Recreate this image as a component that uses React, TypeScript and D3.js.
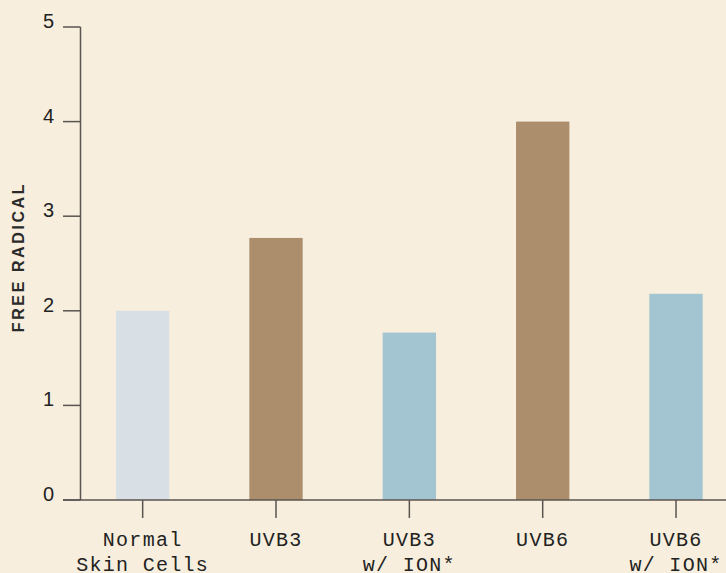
import React, { useEffect, useRef } from "react";
import * as d3 from "d3";

const categories: string[][] = [
  ["Normal", "Skin Cells"],
  ["UVB3"],
  ["UVB3", "w/ ION*"],
  ["UVB6"],
  ["UVB6", "w/ ION*"],
];
const keys = ["normal", "uvb3", "uvb3ion", "uvb6", "uvb6ion"];
const values = [2.0, 2.77, 1.77, 4.0, 2.18];
const colors = ["#D8E0E5", "#AD8E6C", "#A3C5D1", "#AD8E6C", "#A3C5D1"];
const yTicks = [0, 1, 2, 3, 4, 5];
const yTitle = "FREE RADICAL";

const W = 726;
const H = 573;

export default function App() {
  const ref = useRef<SVGSVGElement>(null);

  useEffect(() => {
    const svg = d3.select(ref.current);
    svg.selectAll("*").remove();

    const x = d3
      .scaleBand<string>()
      .domain(keys)
      .range([76, 742.7])
      .paddingInner(0.6)
      .paddingOuter(0.3);
    const y = d3.scaleLinear().domain([0, 5]).range([500, 27]);
    const axisColor = "#5a5550";

    svg.append("rect").attr("width", W).attr("height", H).attr("fill", "#F7EEDD");

    // bars
    svg
      .selectAll("rect.bar")
      .data(values)
      .join("rect")
      .attr("class", "bar")
      .attr("x", (_, i) => x(keys[i])!)
      .attr("width", x.bandwidth())
      .attr("y", (d) => y(d))
      .attr("height", (d) => y(0) - y(d))
      .attr("fill", (_, i) => colors[i]);

    // y axis
    svg
      .append("line")
      .attr("x1", 80.5)
      .attr("x2", 80.5)
      .attr("y1", y(5))
      .attr("y2", y(0))
      .attr("stroke", axisColor)
      .attr("stroke-width", 1.5);

    const yt = svg.selectAll("g.yt").data(yTicks).join("g").attr("class", "yt");
    yt.append("line")
      .attr("x1", 63)
      .attr("x2", 80.5)
      .attr("y1", (d) => y(d))
      .attr("y2", (d) => y(d))
      .attr("stroke", axisColor)
      .attr("stroke-width", 1.5);
    yt.append("text")
      .attr("x", 54)
      .attr("y", (d) => y(d) + 1)
      .attr("text-anchor", "end")
      .attr("font-family", "Liberation Sans, Arial, sans-serif")
      .attr("font-size", 20)
      .attr("fill", "#222")
      .text((d) => String(d));

    // x axis
    svg
      .append("line")
      .attr("x1", 63)
      .attr("x2", W)
      .attr("y1", y(0))
      .attr("y2", y(0))
      .attr("stroke", axisColor)
      .attr("stroke-width", 1.5);

    const xt = svg.selectAll("g.xt").data(keys).join("g").attr("class", "xt");
    xt.append("line")
      .attr("x1", (d) => x(d)! + x.bandwidth() / 2)
      .attr("x2", (d) => x(d)! + x.bandwidth() / 2)
      .attr("y1", y(0))
      .attr("y2", y(0) + 18)
      .attr("stroke", axisColor)
      .attr("stroke-width", 1.5);
    xt.each(function (d, i) {
      const g = d3.select(this);
      const cx = x(d)! + x.bandwidth() / 2;
      categories[i].forEach((line, j) => {
        g.append("text")
          .attr("x", cx)
          .attr("y", 546 + j * 25)
          .attr("text-anchor", "middle")
          .attr("font-family", "Liberation Mono, DejaVu Sans Mono, monospace")
          .attr("font-size", 20)
          .attr("letter-spacing", 1.3)
          .attr("fill", "#222")
          .text(line);
      });
    });

    // y title
    svg
      .append("text")
      .attr("transform", `translate(24,257) rotate(-90)`)
      .attr("text-anchor", "middle")
      .attr("font-family", "Liberation Sans, Arial, sans-serif")
      .attr("font-size", 16)
      .attr("font-weight", "bold")
      .attr("letter-spacing", 2.6)
      .attr("fill", "#2a2a2a")
      .text(yTitle);
  }, []);

  return (
    <svg
      ref={ref}
      width={W}
      height={H}
      style={{ position: "absolute", left: 0, top: 0, display: "block" }}
    />
  );
}
